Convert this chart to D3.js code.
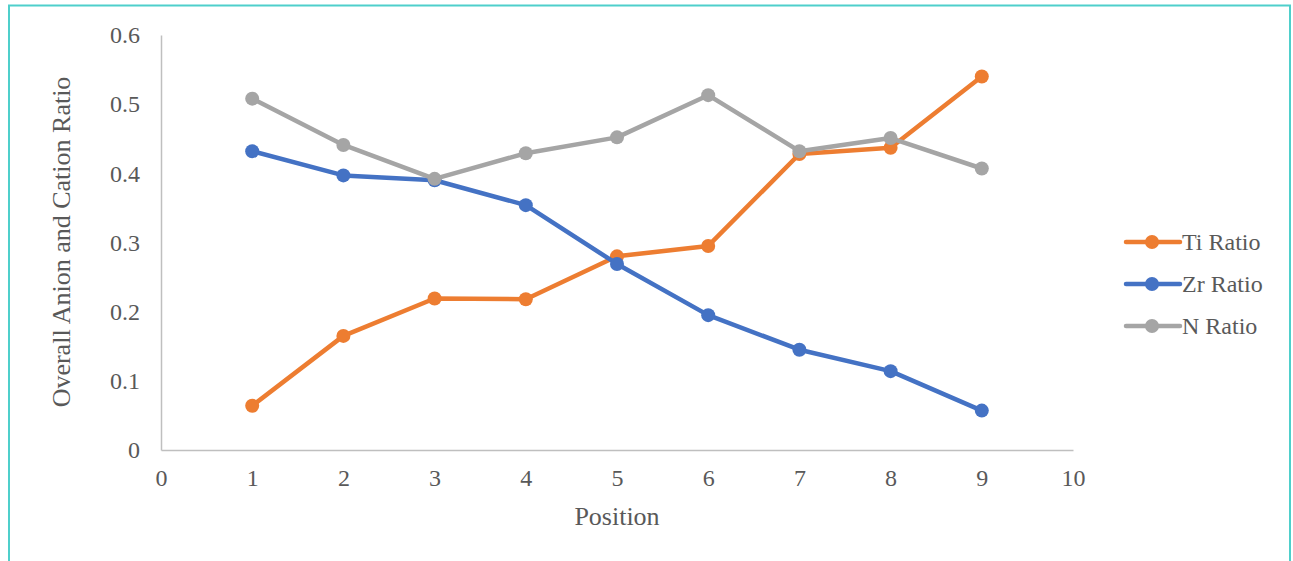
<!DOCTYPE html>
<html>
<head>
<meta charset="utf-8">
<script src="https://cdn.jsdelivr.net/npm/d3@7"></script>
<style>
  html, body { margin: 0; padding: 0; background: #fff; }
  svg { display: block; }
</style>
</head>
<body>
<svg id="chart" width="1293" height="561" font-family="Liberation Serif, Times New Roman, serif"></svg>
<script>
// Measured ratios at each sample position
const positions = [1, 2, 3, 4, 5, 6, 7, 8, 9];
const tiRatio = [0.064, 0.165, 0.219, 0.218, 0.280, 0.295, 0.428, 0.437, 0.540];
const zrRatio = [0.432, 0.397, 0.390, 0.354, 0.269, 0.195, 0.145, 0.114, 0.057];
const nRatio  = [0.508, 0.441, 0.392, 0.429, 0.452, 0.513, 0.432, 0.451, 0.407];
const seriesNames = ["Ti Ratio", "Zr Ratio", "N Ratio"];
const seriesColors = ["#ED7D31", "#4472C4", "#A5A5A5"];
const xTicks = [0, 1, 2, 3, 4, 5, 6, 7, 8, 9, 10];
const yTicks = [0, 0.1, 0.2, 0.3, 0.4, 0.5, 0.6];

const FONT = "Liberation Serif, Times New Roman, serif";
const TEXT_COLOR = "#595959";

const series = [tiRatio, zrRatio, nRatio].map((vals, i) => ({
  name: seriesNames[i],
  color: seriesColors[i],
  points: positions.map((p, j) => ({ x: p, y: vals[j] }))
}));

const svg = d3.select("#chart");

// outer frame
svg.append("path")
  .attr("d", "M9,561 L9,5.5 L1290,5.5 L1290,561")
  .attr("fill", "none")
  .attr("stroke", "#4FCFCB")
  .attr("stroke-width", 2);

const x = d3.scaleLinear().domain([0, 10]).range([161, 1073]);
const y = d3.scaleLinear().domain([0, 0.6]).range([450, 35]);

// axes
const yAxis = svg.append("g").attr("transform", "translate(161,0)")
  .call(d3.axisLeft(y).tickValues(yTicks).tickSize(0).tickPadding(21)
    .tickFormat(d => d === 0 ? "0" : d3.format(".1f")(d)));
const xAxis = svg.append("g").attr("transform", "translate(0,450)")
  .call(d3.axisBottom(x).tickValues(xTicks).tickSize(0).tickPadding(19)
    .tickFormat(d3.format("d")));

[yAxis, xAxis].forEach(g => {
  g.attr("font-family", FONT).attr("font-size", 24);
  g.select(".domain").attr("stroke", "#BFBFBF").attr("stroke-width", 1.5);
  g.selectAll("text")
    .attr("font-family", FONT)
    .attr("font-size", 24)
    .attr("fill", TEXT_COLOR);
});

// axis titles
svg.append("text")
  .attr("x", 617).attr("y", 525)
  .attr("text-anchor", "middle")
  .attr("font-family", FONT).attr("font-size", 26).attr("fill", TEXT_COLOR)
  .text("Position");
svg.append("text")
  .attr("transform", "translate(70,242) rotate(-90)")
  .attr("text-anchor", "middle")
  .attr("font-family", FONT).attr("font-size", 26).attr("fill", TEXT_COLOR)
  .text("Overall Anion and Cation Ratio");

// series lines and markers
const line = d3.line().x(d => x(d.x)).y(d => y(d.y));
series.forEach(s => {
  const g = svg.append("g");
  g.append("path")
    .datum(s.points)
    .attr("d", line)
    .attr("fill", "none")
    .attr("stroke", s.color)
    .attr("stroke-width", 4.5)
    .attr("stroke-linejoin", "round");
  g.selectAll("circle").data(s.points).join("circle")
    .attr("cx", d => x(d.x))
    .attr("cy", d => y(d.y))
    .attr("r", 7)
    .attr("fill", s.color);
});

// legend
const legend = svg.append("g");
series.forEach((s, i) => {
  const ly = 242 + i * 42;
  legend.append("line")
    .attr("x1", 1126).attr("x2", 1180).attr("y1", ly).attr("y2", ly)
    .attr("stroke", s.color).attr("stroke-width", 4.5).attr("stroke-linecap", "round");
  legend.append("circle").attr("cx", 1152).attr("cy", ly).attr("r", 7).attr("fill", s.color);
  legend.append("text")
    .attr("x", 1182).attr("y", ly + 8)
    .attr("font-family", FONT).attr("font-size", 24).attr("fill", TEXT_COLOR)
    .text(s.name);
});
</script>
</body>
</html>
